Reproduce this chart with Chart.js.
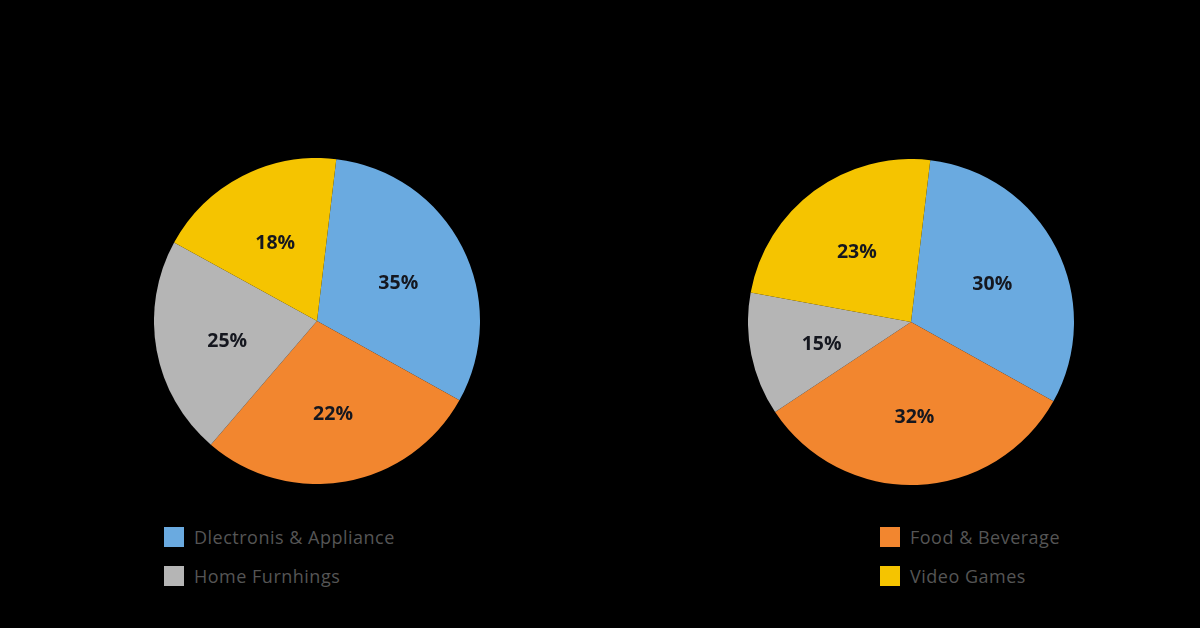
<!DOCTYPE html>
<html>
<head>
<meta charset="utf-8">
<script src="https://cdn.jsdelivr.net/npm/chart.js@4"></script>
<style>
    html, body {margin: 0; padding: 0; background: #000;}
    body {width: 1200px; height: 628px; position: relative; overflow: hidden; font-family: "Open Sans", sans-serif;}
    .pie {position: absolute; width: 326px; height: 326px;}
    #pieLeft {left: 154px; top: 158px;}
    #pieRight {left: 748px; top: 159px;}
    .leyenda {position: absolute; color: #555; font-size: 18px; letter-spacing: 0.5px;}
    .item {display: flex; align-items: center; height: 20px; margin-bottom: 19px;}
    .caja {width: 20px; height: 20px; margin-right: 10px;}
</style>
</head>
<body>
<canvas id="pieLeft" class="pie" width="326" height="326"></canvas>
<canvas id="pieRight" class="pie" width="326" height="326"></canvas>
<div id="leyendaIzq" class="leyenda" style="left:164px; top:527px;"></div>
<div id="leyendaDer" class="leyenda" style="left:880px; top:527px;"></div>

<script>
// Categorías (orden horario desde arriba)
const categorias = ["Dlectronis & Appliance", "Food & Beverage", "Home Furnhings", "Video Games"];
const colores = ["#6aaae0", "#f2862f", "#b5b5b5", "#f5c400"];

// Tamaño de cada porción medido en la imagen (%)
const porcionesIzq = [31.2, 28.2, 21.7, 18.9];
const porcionesDer = [31.2, 32.6, 12.2, 24.0];

// Porcentajes impresos sobre cada porción
const etiquetasIzq = [35, 22, 25, 18];
const etiquetasDer = [30, 32, 15, 23];

// Qué categorías van en cada leyenda
const leyendaIzq = [0, 2];
const leyendaDer = [1, 3];

// Plugin para escribir el porcentaje dentro de cada porción
const textoPorciones = {
    id: "textoPorciones",
    afterDatasetsDraw(chart, args, opts) {
        const ctx = chart.ctx;
        const meta = chart.getDatasetMeta(0);
        ctx.save();
        ctx.font = "700 19.5px 'Open Sans'";
        ctx.fillStyle = "#15171f";
        ctx.textAlign = "center";
        ctx.textBaseline = "middle";
        meta.data.forEach((arc, i) => {
            const p = arc.getProps(["x", "y", "startAngle", "endAngle", "outerRadius"], true);
            const medio = (p.startAngle + p.endAngle) / 2;
            const r = p.outerRadius * 0.56;
            ctx.fillText(opts.textos[i] + "%", p.x + Math.cos(medio) * r, p.y + Math.sin(medio) * r + 4);
        });
        ctx.restore();
    }
};

function crearPie(id, porciones, textos) {
    const canvas = document.getElementById(id);
    if (!canvas) {return;}

    new Chart(
        canvas,
        {
            type: "pie",
            data: {labels: categorias, datasets: [{data: porciones, backgroundColor: colores, borderWidth: 0}]},
            options: {
                responsive: false,
                animation: false,
                rotation: 6.8,
                layout: {padding: 0},
                plugins: {legend: {display: false}, tooltip: {enabled: false}, textoPorciones: {textos: textos}}
            },
            plugins: [textoPorciones]
        }
    );
}

function armarLeyenda(id, indices) {
    const cont = document.getElementById(id);
    indices.forEach(i => {
        const item = document.createElement("div");
        item.className = "item";
        item.innerHTML = '<span class="caja" style="background:' + colores[i] + '"></span><span>' + categorias[i].replace("&", "&amp;") + "</span>";
        cont.appendChild(item);
    });
}

crearPie("pieLeft", porcionesIzq, etiquetasIzq);
crearPie("pieRight", porcionesDer, etiquetasDer);
armarLeyenda("leyendaIzq", leyendaIzq);
armarLeyenda("leyendaDer", leyendaDer);
</script>
</body>
</html>
